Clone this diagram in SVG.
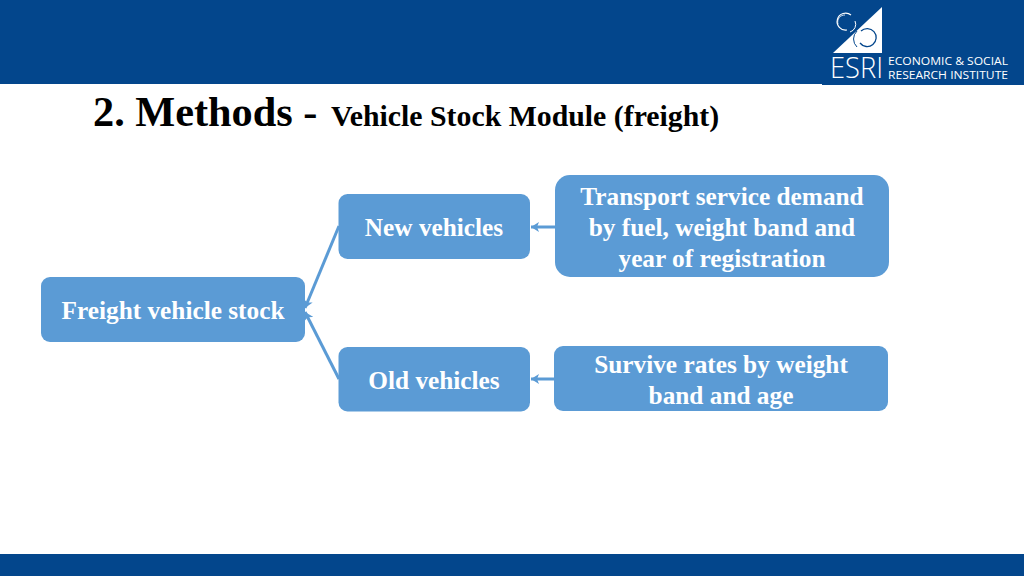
<svg xmlns="http://www.w3.org/2000/svg" width="1024" height="576" viewBox="0 0 1024 576">
<style>
.box{fill:#5b9bd5}
.t{font-family:"Liberation Serif",serif;font-weight:700;font-size:25.3px;fill:#fff;text-anchor:middle}
.c{stroke:#5b9bd5;stroke-width:3;fill:none;marker-end:url(#a)}
.h{font-family:"Liberation Serif",serif;font-weight:700;fill:#000}
.l{font-family:"Open Sans","Liberation Sans",sans-serif;font-size:11.5px;fill:#fff}
</style>
<defs><marker id="a" markerUnits="userSpaceOnUse" markerWidth="9" markerHeight="10" refX="8" refY="5" orient="auto"><path d="M0 0L8 5L0 10L2 5Z" fill="#5b9bd5"/></marker></defs>
<rect width="1024" height="576" fill="#fff"/>
<rect width="1024" height="84" fill="#03468c"/>
<rect x="822" width="202" height="85" fill="#03468c"/>
<rect y="554" width="1024" height="22" fill="#03468c"/>
<g id="logo">
<path d="M833 53L882 7V53Z" fill="#fff"/>
<path d="M851 15A8.500 8.500 0 1 0 847 30" fill="none" stroke="#fff" stroke-width="1.2"/>
<path d="M838 24a7 7 0 0 1 7-9" fill="none" stroke="#fff" stroke-width="0.8"/>
<path d="M855 21a8 8 0 0 1-5 11" fill="none" stroke="#fff" stroke-width="1"/>
<path d="M861 31A9 9 0 1 1 860 43" fill="none" stroke="#03468c" stroke-width="1.3"/>
<path d="M857 47a11 11 0 0 1 0-16" fill="none" stroke="#03468c" stroke-width="1"/>
<text x="830" y="78" font-family="'Open Sans','Liberation Sans',sans-serif" font-weight="300" font-size="29" fill="#fff" textLength="53" lengthAdjust="spacingAndGlyphs">ESRI</text>
<text class="l" x="888" y="65" textLength="120" lengthAdjust="spacingAndGlyphs">ECONOMIC &amp; SOCIAL</text>
<text class="l" x="888" y="79" textLength="120" lengthAdjust="spacingAndGlyphs">RESEARCH INSTITUTE</text>
</g>
<g id="title"><text class="h" x="93" y="126" font-size="42.300">2. Methods - <tspan x="331" y="126" font-size="29.800">Vehicle Stock Module (freight)</tspan></text></g>
<g id="connectors">
<path class="c" d="M339 226L305 308"/>
<path class="c" d="M339 379L305 312"/>
<path class="c" d="M555 227H531"/>
<path class="c" d="M554 379H531"/>
</g>
<g id="freight"><rect class="box" x="41" y="277" width="264" height="65" rx="9"/><text class="t" x="173" y="319">Freight vehicle stock</text></g>
<g id="new"><rect class="box" x="338.500" y="194" width="191.500" height="65" rx="9"/><text class="t" x="434" y="236">New vehicles</text></g>
<g id="old"><rect class="box" x="338.500" y="347" width="191.500" height="64.500" rx="9"/><text class="t" x="434" y="389">Old vehicles</text></g>
<g id="demand"><rect class="box" x="555" y="175" width="334" height="102" rx="15"/><text class="t" x="722" y="205">Transport service demand</text><text class="t" x="722" y="236">by fuel, weight band and</text><text class="t" x="722" y="267">year of registration</text></g>
<g id="survive"><rect class="box" x="554" y="346" width="334" height="65" rx="9"/><text class="t" x="721" y="373">Survive rates by weight</text><text class="t" x="721" y="404">band and age</text></g>
</svg>
